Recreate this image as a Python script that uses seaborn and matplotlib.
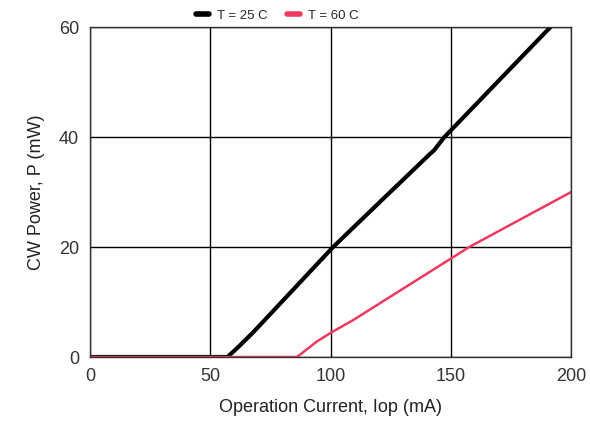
import matplotlib
matplotlib.use("Agg")
import matplotlib.pyplot as plt
import pandas as pd
import seaborn as sns

# Operation current (mA) vs CW power (mW)
i_25 = [0, 57.1, 62, 68, 101, 120, 141, 143, 147.3, 170, 191.4]
p_25 = [0, 0, 2.0, 4.6, 20.0, 28.0, 36.8, 37.6, 40.0, 50.3, 60]
i_60 = [0, 86, 94.2, 100, 109.3, 130, 150, 157.6, 200]
p_60 = [0, 0, 2.8, 4.4, 6.7, 12.4, 17.9, 20.0, 30]
labels = ["T = 25 C", "T = 60 C"]
colors = ["#000000", "#ee3a5e"]

df = pd.concat([
    pd.DataFrame({"Iop": i_25, "P": p_25, "T": labels[0]}),
    pd.DataFrame({"Iop": i_60, "P": p_60, "T": labels[1]}),
])

sns.set_theme(style="white")
plt.rcParams["font.family"] = ["Liberation Sans", "DejaVu Sans"]

fig = plt.figure(figsize=(5.9, 4.33), dpi=100)
ax = fig.add_axes([0.153, 0.1755, 0.815, 0.762])

sns.lineplot(data=df, x="Iop", y="P", hue="T", palette=colors,
             sort=False, estimator=None, ax=ax, legend=False)
ax.lines[0].set_linewidth(3)
ax.lines[1].set_linewidth(1.8)

ax.set_xlim(0, 200)
ax.set_ylim(0, 60)
ax.set_xticks([0, 50, 100, 150, 200])
ax.set_yticks([0, 20, 40, 60])
ax.grid(True, color="black", linewidth=1)
ax.set_axisbelow(True)
for s in ax.spines.values():
    s.set_color("#333333")
    s.set_linewidth(1)
ax.tick_params(labelsize=13, length=0, pad=8, colors="#333333")
ax.set_xlabel("Operation Current, Iop (mA)", fontsize=13, color="#222222", labelpad=10)
ax.set_ylabel("CW Power, P (mW)", fontsize=13, color="#222222", labelpad=10)

handles = [plt.Line2D([], [], color=c, linewidth=4) for c in colors]
fig.legend(handles, labels, loc="upper center", bbox_to_anchor=(0.47, 1.005),
           ncol=2, frameon=False, fontsize=9.5, handlelength=1.0,
           columnspacing=1.5, handletextpad=0.6)

fig.savefig("out.png", dpi=100)
